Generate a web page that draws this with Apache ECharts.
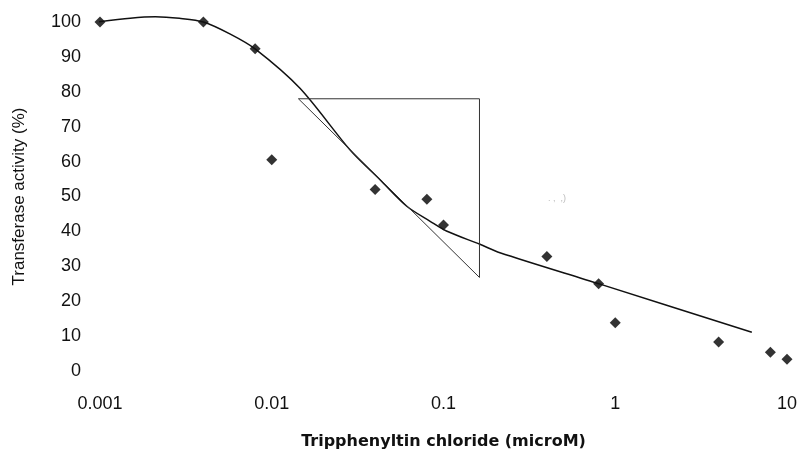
<!DOCTYPE html>
<html>
<head>
<meta charset="utf-8">
<script src="https://cdn.jsdelivr.net/npm/echarts@6/dist/echarts.min.js"></script>
<style>
  html, body { margin: 0; padding: 0; background: #fff; }
  #chart { width: 801px; height: 455px; }
</style>
</head>
<body>
<div id="chart"></div>
<script>
// measured points (concentration, activity %)
var doseX = [0.001, 0.004, 0.008, 0.01, 0.04, 0.08, 0.1, 0.4, 0.8, 1, 4, 8, 10];
var activityY = [100, 100, 92.3, 60.5, 52, 49.2, 41.8, 32.8, 25, 13.8, 8.3, 5.4, 3.4];

// fitted curve
var fitX = [0.00096, 0.0015, 0.0021, 0.0029, 0.004, 0.0057, 0.0080, 0.0146, 0.0286, 0.0427, 0.0611, 0.0836, 0.104, 0.163, 0.213, 0.816, 6.24];
var fitY = [100, 101.1, 101.5, 101.05, 100, 96.6, 92.3, 81, 63.3, 54.8, 47.2, 42.9, 40.1, 36.3, 33.9, 24.9, 11.1];

// slope triangle corners
var triX = [0.0143, 0.162, 0.162, 0.0143];
var triY = [78, 78, 26.8, 78];

var xTicks = ['0.001', '0.01', '0.1', '1', '10'];

function pairs(xs, ys) {
  return xs.map(function (x, i) { return [x, ys[i]]; });
}

var myChart = echarts.init(document.getElementById('chart'));
myChart.setOption({
  animation: false,
  grid: { left: 100, right: 14, top: 22, bottom: 81 },
  xAxis: {
    type: 'log',
    logBase: 10,
    min: 0.001,
    max: 10,
    name: 'Tripphenyltin chloride (microM)',
    nameLocation: 'middle',
    nameGap: 63,
    nameTextStyle: { fontFamily: 'DejaVu Sans', fontSize: 16, fontWeight: 'bold', color: '#111' },
    axisLine: { show: false },
    axisTick: { show: false },
    splitLine: { show: false },
    axisLabel: {
      margin: 24,
      fontFamily: 'Liberation Sans',
      fontSize: 18,
      color: '#111',
      formatter: function (v, i) { return xTicks[i]; }
    }
  },
  yAxis: {
    type: 'value',
    min: 0,
    max: 100,
    interval: 10,
    name: 'Transferase activity (%)',
    nameLocation: 'middle',
    nameGap: 72,
    nameTextStyle: { fontFamily: 'Liberation Sans', fontSize: 17, color: '#111' },
    axisLine: { show: false },
    axisTick: { show: false },
    splitLine: { show: false },
    axisLabel: { margin: 19, fontFamily: 'Liberation Sans', fontSize: 18, color: '#111' }
  },
  graphic: [
    {
      type: 'text',
      left: 548,
      top: 194,
      style: { text: '. ,  ,)', fill: '#bbb', font: '9px Liberation Sans' }
    }
  ],
  series: [
    {
      type: 'line',
      data: pairs(fitX, fitY),
      smooth: 0.3,
      clip: false,
      showSymbol: false,
      lineStyle: { color: '#111', width: 1.5 }
    },
    {
      type: 'line',
      data: pairs(triX, triY),
      showSymbol: false,
      lineStyle: { color: '#333', width: 1 }
    },
    {
      type: 'scatter',
      data: pairs(doseX, activityY),
      symbol: 'diamond',
      symbolSize: 11,
      clip: false,
      itemStyle: { color: '#000' }
    }
  ]
});
</script>
</body>
</html>
